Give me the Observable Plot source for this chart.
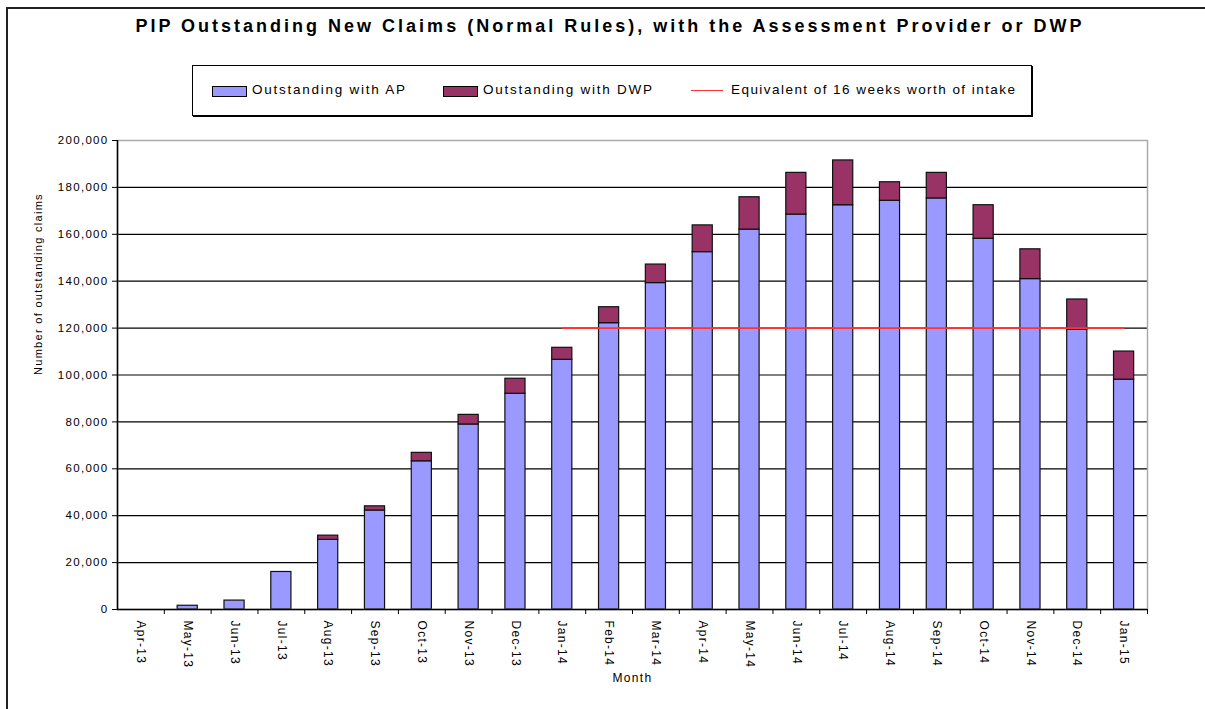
<!DOCTYPE html>
<html>
<head>
<meta charset="utf-8">
<script src="https://cdn.jsdelivr.net/npm/d3@7"></script>
<script src="https://cdn.jsdelivr.net/npm/@observablehq/plot@0.6"></script>
<style>
  html, body { margin: 0; padding: 0; background: #fff; }
  body { width: 1205px; height: 709px; overflow: hidden; position: relative; font-family: "Liberation Sans", Arial, sans-serif; }
  #border { position: absolute; left: 6px; top: 7px; width: 1260px; height: 760px; border: 2px solid #222; box-sizing: border-box; }
  #title { position: absolute; left: 0; top: 16px; width: 1220px; text-align: center; font-size: 18px; font-weight: bold; letter-spacing: 3px; color: #000; }
  #legend { position: absolute; left: 192px; top: 65px; width: 840px; height: 51px; border: 1px solid #000; box-shadow: 1px 1px 0 #000; box-sizing: border-box; background: #fff; }
  .lg { position: absolute; top: 16px; font-size: 13.5px; letter-spacing: 1.75px; color: #000; white-space: nowrap; }
  .sw { position: absolute; top: 20px; width: 33px; height: 9px; border: 1px solid #000; }
  .ln { position: absolute; top: 24px; width: 32px; height: 0; border-top: 1.5px solid #ff3333; }
  #chart { position: absolute; left: 0; top: 130px; }
</style>
</head>
<body>
<div id="border"></div>
<div id="title"></div>
<div id="legend"></div>
<div id="chart"></div>
<script>
const titleText = "PIP Outstanding New Claims (Normal Rules), with the Assessment Provider or DWP";
const months = ["Apr-13","May-13","Jun-13","Jul-13","Aug-13","Sep-13","Oct-13","Nov-13","Dec-13","Jan-14","Feb-14","Mar-14","Apr-14","May-14","Jun-14","Jul-14","Aug-14","Sep-14","Oct-14","Nov-14","Dec-14","Jan-15"];
const withAP  = [0, 1600, 3800, 16000, 29700, 42200, 63200, 78900, 92000, 106500, 122100, 139200, 152400, 162000, 168400, 172400, 174300, 175300, 158100, 140900, 119300, 98000];
const withDWP = [0, 0, 0, 0, 1800, 1800, 3600, 4100, 6400, 5100, 6800, 7900, 11400, 13800, 17800, 19100, 7900, 10900, 14300, 12700, 12900, 12000];
const intake16 = [null, null, null, null, null, null, null, null, null, 120000, 120000, 120000, 120000, 120000, 120000, 120000, 120000, 120000, 120000, 120000, 120000, 120000];
const seriesNames = ["Outstanding with AP", "Outstanding with DWP"];
const seriesColors = ["#9999ff", "#993366"];
const lineName = "Equivalent of 16 weeks worth of intake";
const lineColor = "#ff3333";
const yTicks = [0, 20000, 40000, 60000, 80000, 100000, 120000, 140000, 160000, 180000, 200000];
const yLabel = "Number of outstanding claims";
const xLabel = "Month";

document.getElementById("title").textContent = titleText;

// legend
const legend = document.getElementById("legend");
const legendItems = [
  {kind: "sw", color: seriesColors[0], text: seriesNames[0], sx: 19, tx: 59},
  {kind: "sw", color: seriesColors[1], text: seriesNames[1], sx: 250, tx: 290},
  {kind: "ln", color: lineColor, text: lineName, sx: 498, tx: 538}
];
for (const it of legendItems) {
  const s = document.createElement("div");
  s.className = it.kind;
  s.style.left = it.sx + "px";
  if (it.kind === "sw") s.style.background = it.color; else s.style.borderTopColor = it.color;
  legend.appendChild(s);
  const t = document.createElement("div");
  t.className = "lg";
  t.style.left = it.tx + "px";
  t.textContent = it.text;
  if (it.kind === "ln") t.style.letterSpacing = "1.45px";
  legend.appendChild(t);
}

const rows = [];
months.forEach((m, i) => {
  if (withAP[i] > 0) rows.push({month: m, series: seriesNames[0], value: withAP[i]});
  if (withDWP[i] > 0) rows.push({month: m, series: seriesNames[1], value: withDWP[i]});
});
const lineRows = months.map((m, i) => ({month: m, value: intake16[i]})).filter(d => d.value != null);

const W = 1205, H = 579, mL = 117, mR = 58, mT = 10, mB = 100;
const step = (W - mL - mR) / months.length;

const chart = Plot.plot({
  width: W, height: H,
  marginLeft: mL, marginRight: mR, marginTop: mT, marginBottom: mB,
  style: {fontFamily: "'Liberation Sans', Arial, sans-serif", fontSize: "11.5px", color: "#000", background: "transparent", letterSpacing: "1.3px"},
  x: {domain: months, paddingInner: 0.57, paddingOuter: 0.285, round: false, label: null},
  y: {domain: [0, 200000], label: null},
  color: {domain: seriesNames, range: seriesColors},
  marks: [
    Plot.ruleY(yTicks.filter(v => v > 0 && v < 200000), {stroke: "#000", strokeWidth: 1.2}),
    Plot.barY(rows, {x: "month", y: "value", fill: "series", stroke: "#111", strokeWidth: 1.2, order: seriesNames}),
    Plot.line(lineRows, {x: "month", y: "value", stroke: lineColor, strokeWidth: 1.6}),
    Plot.frame({stroke: "#aaa", strokeWidth: 1.5}),
    Plot.ruleY([0], {stroke: "#000", strokeWidth: 1.5}),
    Plot.ruleX([months[0]], {dx: -step / 2, stroke: "#000", strokeWidth: 1.5, y1: 0, y2: 200000}),
    Plot.axisY(yTicks, {tickSize: 5, tickPadding: 4, tickFormat: d3.format(","), stroke: "#000", label: null}),
    Plot.axisX({tickSize: 5, dx: step / 2, tickFormat: () => "", stroke: "#000", label: null}),
    Plot.axisX({tickSize: 0, tickPadding: 11, tickRotate: 90, fontSize: 12, label: null}),
    Plot.text([yLabel], {frameAnchor: "left", dx: -79, rotate: -90, fontSize: 11}),
    Plot.text([xLabel], {frameAnchor: "bottom", dy: 72, fontSize: 12})
  ]
});
document.getElementById("chart").appendChild(chart);
</script>
</body>
</html>
